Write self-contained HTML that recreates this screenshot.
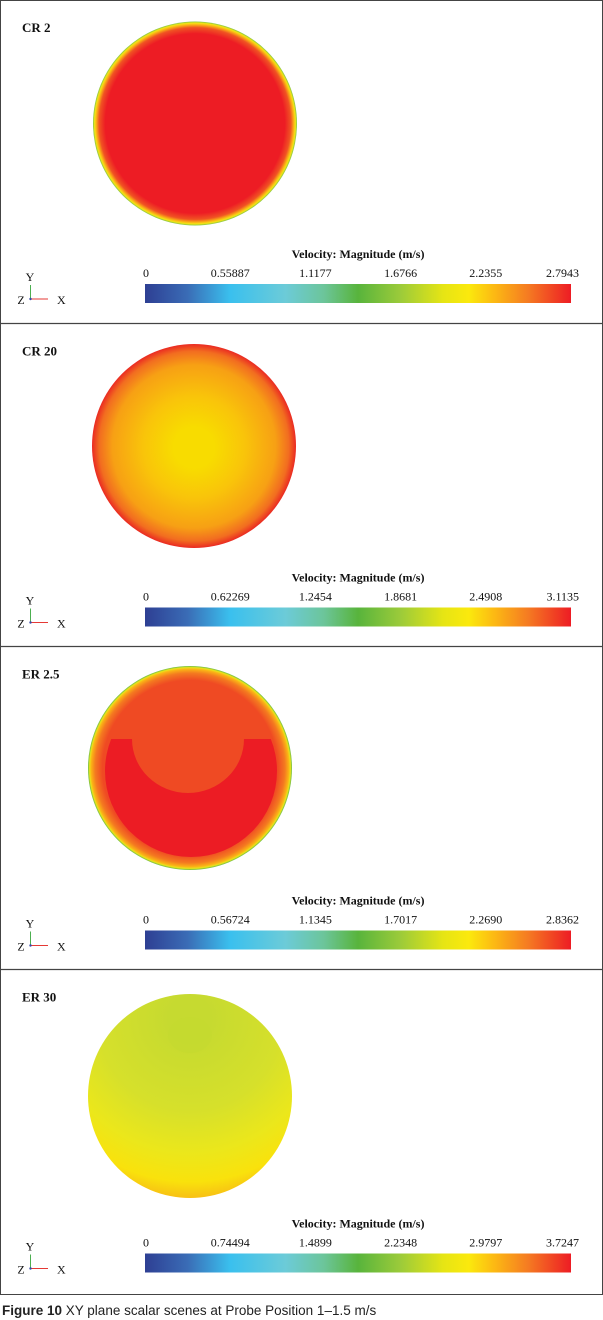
<!DOCTYPE html>
<html><head><meta charset="utf-8">
<style>
html,body{margin:0;padding:0;background:#fff;width:603px;height:1320px;overflow:hidden}
svg{display:block}
.serif{font-family:"Liberation Serif",serif}
.sans{font-family:"Liberation Sans",sans-serif}
</style></head>
<body>
<svg id="fig" width="603" height="1320" viewBox="0 0 603 1320" xmlns="http://www.w3.org/2000/svg">
<defs>
<linearGradient id="cbar" x1="0" x2="1" y1="0" y2="0">
<stop offset="0" stop-color="#2e3f93"/>
<stop offset="0.1" stop-color="#3a6cb6"/>
<stop offset="0.2" stop-color="#3ac0ee"/>
<stop offset="0.33" stop-color="#6ccbd8"/>
<stop offset="0.42" stop-color="#6cc59a"/>
<stop offset="0.5" stop-color="#58b43c"/>
<stop offset="0.6" stop-color="#9ccb3a"/>
<stop offset="0.7" stop-color="#e6e514"/>
<stop offset="0.76" stop-color="#fbe90d"/>
<stop offset="0.82" stop-color="#fcb913"/>
<stop offset="0.9" stop-color="#f57a22"/>
<stop offset="1" stop-color="#ed1c24"/>
</linearGradient>
<radialGradient id="g1" cx="0.5" cy="0.5" r="0.5">
<stop offset="0.88" stop-color="#ed1c24"/>
<stop offset="0.94" stop-color="#f05323"/>
<stop offset="0.97" stop-color="#fbb515"/>
<stop offset="0.985" stop-color="#f2e614"/>
<stop offset="1" stop-color="#7fc24a"/>
</radialGradient>
<radialGradient id="g2" cx="0.5" cy="0.5" r="0.5" fx="0.5" fy="0.51">
<stop offset="0.2" stop-color="#f8dc00"/>
<stop offset="0.5" stop-color="#f9c40a"/>
<stop offset="0.8" stop-color="#f7a014"/>
<stop offset="0.93" stop-color="#f26d20"/>
<stop offset="1" stop-color="#ea2a22"/>
</radialGradient>
<radialGradient id="g3" cx="0.5" cy="0.5" r="0.5">
<stop offset="0.86" stop-color="#ef4a23"/>
<stop offset="0.93" stop-color="#f47a20"/>
<stop offset="0.97" stop-color="#fbb515"/>
<stop offset="0.985" stop-color="#e9e51a"/>
<stop offset="1" stop-color="#66b94a"/>
</radialGradient>
<radialGradient id="g4" cx="0.5" cy="0.12" r="1.0">
<stop offset="0.1" stop-color="#c6da30"/>
<stop offset="0.45" stop-color="#d6e02b"/>
<stop offset="0.66" stop-color="#ebe71b"/>
<stop offset="0.8" stop-color="#f9e20c"/>
<stop offset="0.88" stop-color="#f8c014"/>
<stop offset="0.96" stop-color="#f0501f"/>
</radialGradient>
<clipPath id="c3"><rect x="80" y="739" width="230" height="140"/></clipPath>
</defs>
<rect x="0.5" y="0.5" width="602" height="1294" fill="none" stroke="#444" stroke-width="1"/>
<g id="panels"></g>
<text class="sans" x="2" y="1315" font-size="13.5" fill="#222"><tspan font-weight="bold">Figure 10</tspan> XY plane scalar scenes at Probe Position 1–1.5 m/s</text>
</svg>
<script>
const panelTitles = ["CR 2", "CR 20", "ER 2.5", "ER 30"];
const panelMax = [2.7943, 3.1135, 2.8362, 3.7247];
const tickLabels1 = ["0", "0.55887", "1.1177", "1.6766", "2.2355", "2.7943"];
const tickLabels2 = ["0", "0.62269", "1.2454", "1.8681", "2.4908", "3.1135"];
const tickLabels3 = ["0", "0.56724", "1.1345", "1.7017", "2.2690", "2.8362"];
const tickLabels4 = ["0", "0.74494", "1.4899", "2.2348", "2.9797", "3.7247"];
const tickLabels = [tickLabels1, tickLabels2, tickLabels3, tickLabels4];

const NS = "http://www.w3.org/2000/svg";
const root = document.getElementById("panels");
const panelTop = [0, 323.5, 646.5, 969.5];
const circ = [[195,123.5,102,"g1"],[194,446,102,"g2"],[190,768,102,"g3"],[190,1096,102,"g4"]];
const barX0 = 145, barX1 = 571;
function xScale(v, max){ return barX0 + (v/max)*(barX1-barX0); }
function mk(tag, attrs, parent){
  const e = document.createElementNS(NS, tag);
  for (const k in attrs) e.setAttribute(k, attrs[k]);
  parent.appendChild(e); return e;
}
panelTitles.forEach((t, i) => {
  const y0 = panelTop[i];
  const g = mk("g", {}, root);
  
  
  if (i > 0) mk("line", {x1:0, x2:603, y1:y0, y2:y0, stroke:"#444", "stroke-width":1.2}, g);
  const tt = mk("text", {x:22, y:y0+32, class:"serif", "font-size":13, "font-weight":"bold", fill:"#111"}, g);
  tt.textContent = t;
  
  
  const c = circ[i];
  const ci = mk("circle", {cx:c[0], cy:c[1], r:c[2], fill:"url(#"+c[3]+")"}, g);
  
  
  if (i === 2) {
    const cg = mk("g", {"clip-path":"url(#c3)"}, g);
    
    
    mk("circle", {cx:191, cy:771, r:86, fill:"#ec1c24"}, cg);
    mk("ellipse", {cx:188, cy:739, rx:56, ry:54, fill:"#ef4a23"}, cg);
  }
  if (i === 3) {
    const s = mk("ellipse", {cx:190, cy:1035, rx:22, ry:18, fill:"#c5da2f", opacity:0.7}, g);
    
    
  }
  const ct = mk("text", {x:358, y:y0+258, class:"serif", "font-size":12, "font-weight":"bold", "text-anchor":"middle", fill:"#111"}, g);
  ct.textContent = "Velocity: Magnitude (m/s)";
  
  
  const bar = mk("rect", {x:barX0, y:y0+284, width:barX1-barX0, height:19, fill:"url(#cbar)"}, g);
  
  
  const labs = tickLabels[i];
  labs.forEach((l, k) => {
    const v = parseFloat(l);
    let x = xScale(v, panelMax[i]);
    let anchor = k === 0 ? "start" : (k === labs.length-1 ? "end" : "middle");
    if (k === 0) x -= 2;
    if (k === labs.length-1) x += 8;
    const tx = mk("text", {x:x, y:y0+277, class:"serif", "font-size":12, "text-anchor":anchor, fill:"#111"}, g);
    tx.textContent = l;
    
    
  });
  const tri = mk("g", {}, g);
  
  
  mk("line", {x1:30.5, y1:y0+299, x2:30.5, y2:y0+285, stroke:"#4caf50", "stroke-width":1}, tri);
  mk("line", {x1:31, y1:y0+299, x2:48, y2:y0+299, stroke:"#e53935", "stroke-width":1}, tri);
  mk("circle", {cx:30.5, cy:y0+299, r:1.2, fill:"#3949ab"}, tri);
  const ly = mk("text", {x:30, y:y0+281, class:"serif", "font-size":12, "text-anchor":"middle", fill:"#111"}, tri); ly.textContent = "Y";
  const lz = mk("text", {x:21, y:y0+304, class:"serif", "font-size":12, "text-anchor":"middle", fill:"#111"}, tri); lz.textContent = "Z";
  const lx = mk("text", {x:57, y:y0+304, class:"serif", "font-size":12, "text-anchor":"start", fill:"#111"}, tri); lx.textContent = "X";
});
</script>
</body></html>
